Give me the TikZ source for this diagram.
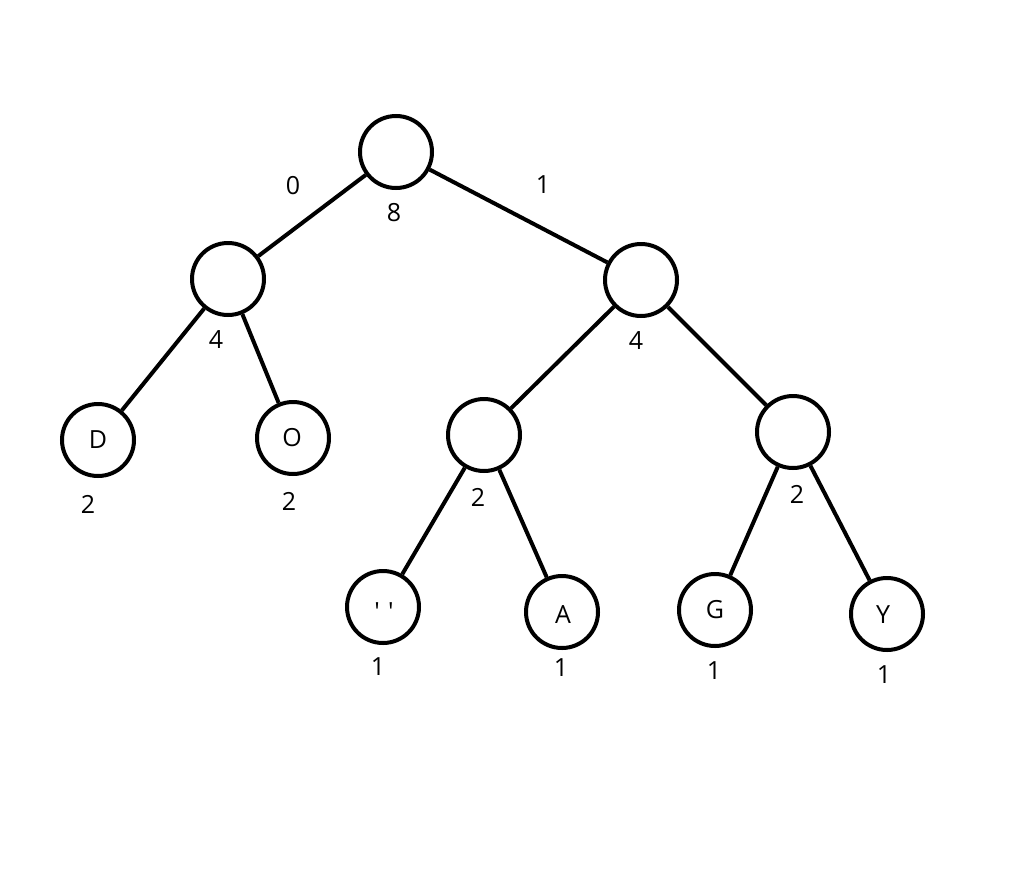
\documentclass[tikz,border=0pt]{standalone}
\usepackage{fontspec}
\setmainfont{Open Sans}
\newfontfamily\rawfont{Open Sans}
\begin{document}
\begin{tikzpicture}[x=1pt,y=-1pt,
  tn/.style={circle,draw,line width=4pt,minimum size=72pt,inner sep=0pt},
  lab/.style={font=\fontsize{25}{25}\selectfont,inner sep=0pt},
  edge/.style={line width=4pt}]
\useasboundingbox (0,0) rectangle (1016,875);
\node[tn] (r) at (396,152) {};
\node[tn] (l) at (228,279) {};
\node[tn] (rr) at (641,280) {};
\node[tn] (d) at (98,440) {};
\node[tn] (o) at (293,438) {};
\node[tn] (rl2) at (484,435) {};
\node[tn] (rr2) at (793,432) {};
\node[tn] (sp) at (383,607) {};
\node[tn] (a) at (562,612) {};
\node[tn] (g) at (715,610) {};
\node[tn] (y) at (887,614) {};
\draw[edge] (r) -- (l);
\draw[edge] (r) -- (rr);
\draw[edge] (l) -- (d);
\draw[edge] (l) -- (o);
\draw[edge] (rr) -- (rl2);
\draw[edge] (rr) -- (rr2);
\draw[edge] (rl2) -- (sp);
\draw[edge] (rl2) -- (a);
\draw[edge] (rr2) -- (g);
\draw[edge] (rr2) -- (y);
\node[lab] (td) at (98,440) {D};
\node[lab] (to) at (292,438) {O};
\node[lab] (tsp) at (384,612) {\rawfont\symbol{39}\hspace{8pt}\symbol{39}};
\node[lab] (ta) at (563,615) {A};
\node[lab] (tg) at (715,610) {G};
\node[lab] (ty) at (883,615) {Y};
\node[lab] (e0) at (293,186) {0};
\node[lab] (e1) at (543,185) {1};
\node[lab] (w8) at (394,213) {8};
\node[lab] (w4a) at (216,340) {4};
\node[lab] (w4b) at (636,341) {4};
\node[lab] (w2a) at (88,504) {2};
\node[lab] (w2b) at (289,501) {2};
\node[lab] (w2c) at (478,497) {2};
\node[lab] (w2d) at (797,494) {2};
\node[lab] (w1a) at (378,667) {1};
\node[lab] (w1b) at (561,668) {1};
\node[lab] (w1c) at (714,671) {1};
\node[lab] (w1d) at (884,675) {1};
\end{tikzpicture}
\end{document}
